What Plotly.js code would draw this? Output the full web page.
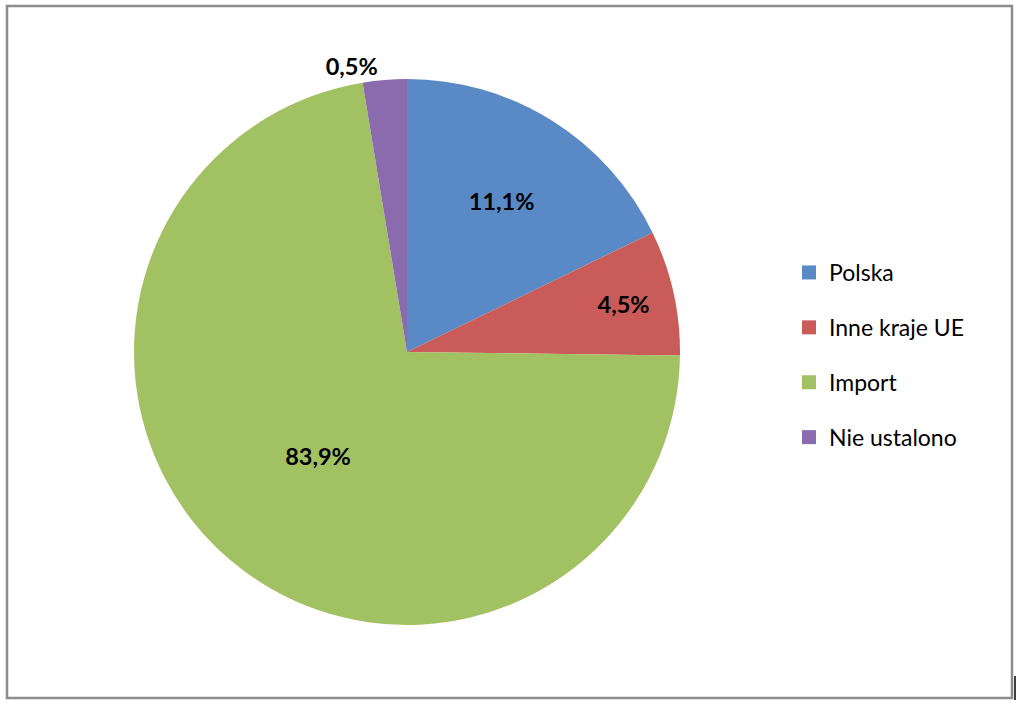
<!DOCTYPE html>
<html>
<head>
<meta charset="utf-8">
<script src="https://cdn.plot.ly/plotly-3.0.1.min.js"></script>
<style>html,body{margin:0;padding:0;background:#fff;}#chart{width:1021px;height:708px;}</style>
</head>
<body>
<div id="chart"></div>
<script>
var categories = ['Polska', 'Inne kraje UE', 'Import', 'Nie ustalono'];
var sliceValues = [17.8, 7.4, 72.2, 2.6];
var labelTexts = ['11,1%', '4,5%', '83,9%', '0,5%'];
var colors = ['#5A8AC6', '#C95B58', '#A2C163', '#8A6BAD'];

var W = 1021, H = 708;
function px(x) { return x / W; }
function py(y) { return 1 - y / H; }

var FONT = 'Lato, "Open Sans", sans-serif';

var pie = {
  type: 'pie',
  labels: categories,
  values: sliceValues,
  text: labelTexts,
  texttemplate: '%{text}',
  textinfo: 'text',
  textposition: ['inside', 'inside', 'inside', 'outside'],
  insidetextorientation: 'horizontal',
  textfont: {family: FONT, size: 23.5, color: '#000', weight: 'bold'},
  insidetextfont: {family: FONT, size: 23.5, color: '#000', weight: 'bold'},
  outsidetextfont: {family: FONT, size: 23.5, color: '#000', weight: 'bold'},
  sort: false,
  direction: 'clockwise',
  rotation: 0,
  marker: {colors: colors, line: {width: 0}},
  showlegend: false,
  hoverinfo: 'label+text',
  domain: {x: [px(134), px(680)], y: [py(625), py(79)]}
};

var traces = [pie];
for (var i = 0; i < categories.length; i++) {
  traces.push({
    type: 'scatter',
    mode: 'markers',
    x: [null], y: [null],
    name: categories[i],
    legendgroup: 'g' + i,
    marker: {symbol: 'square', size: 14, color: colors[i]},
    showlegend: true,
    hoverinfo: 'skip'
  });
}

var layout = {
  width: W, height: H,
  margin: {l: 0, r: 0, t: 0, b: 0},
  paper_bgcolor: '#fff',
  plot_bgcolor: '#fff',
  xaxis: {visible: false},
  yaxis: {visible: false},
  showlegend: true,
  legend: {
    x: px(789), xanchor: 'left',
    y: py(355), yanchor: 'middle',
    font: {family: FONT, size: 23, color: '#000'},
    tracegroupgap: 22,
    bgcolor: 'rgba(0,0,0,0)'
  },
  shapes: [
    {type: 'rect', xref: 'paper', yref: 'paper', x0: px(7), x1: px(1012), y0: py(698), y1: py(6),
     line: {color: '#8c8c8c', width: 2.5}, fillcolor: 'rgba(0,0,0,0)'},
    {type: 'line', xref: 'paper', yref: 'paper', x0: px(1015), x1: px(1015), y0: py(700), y1: py(676),
     line: {color: '#000', width: 1.5}}
  ]
};

Plotly.newPlot('chart', traces, layout, {displayModeBar: false, staticPlot: true});
</script>
</body>
</html>
